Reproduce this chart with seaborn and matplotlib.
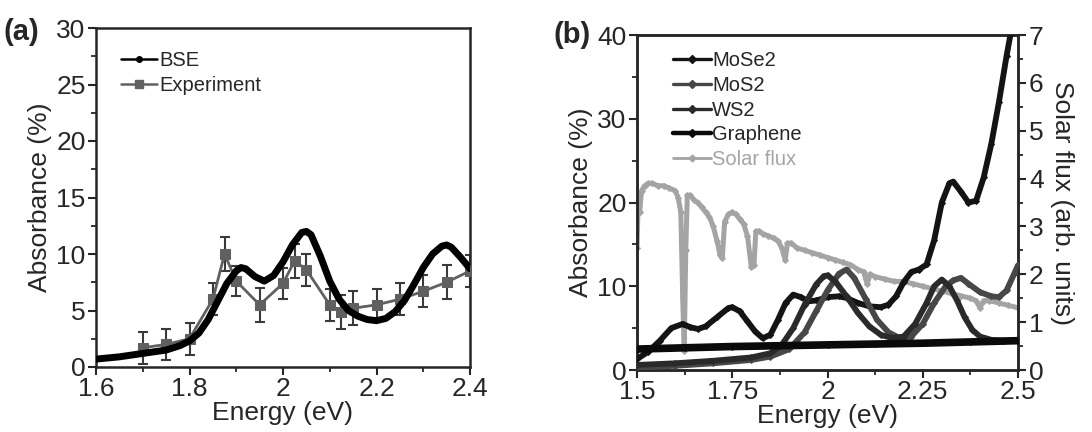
import numpy as np
import pandas as pd
import matplotlib
matplotlib.use("Agg")
import matplotlib.pyplot as plt
from matplotlib.lines import Line2D
from matplotlib.ticker import MultipleLocator
import seaborn as sns

# ---------------- panel (a): BSE vs experiment ----------------
bse_energy = [1.60, 1.65, 1.70, 1.75, 1.78, 1.80, 1.82, 1.84, 1.86, 1.88, 1.90, 1.91,
              1.92, 1.94, 1.96, 1.98, 2.00, 2.02, 2.04, 2.05, 2.06, 2.08, 2.10, 2.12,
              2.14, 2.16, 2.18, 2.20, 2.22, 2.24, 2.26, 2.28, 2.30, 2.32, 2.34, 2.35,
              2.36, 2.38, 2.40]
bse_absorb = [0.7, 0.9, 1.2, 1.5, 1.9, 2.3, 3.0, 4.2, 5.8, 7.4, 8.5, 8.8,
              8.7, 8.0, 7.6, 8.1, 9.3, 10.8, 11.9, 12.0, 11.7, 9.8, 7.6, 6.0,
              5.0, 4.5, 4.2, 4.1, 4.3, 4.9, 5.9, 7.3, 8.8, 10.0, 10.7, 10.8,
              10.6, 9.7, 8.7]

exp_energy = [1.70, 1.75, 1.80, 1.85, 1.875, 1.90, 1.95, 2.00, 2.025, 2.05, 2.10,
              2.125, 2.15, 2.20, 2.25, 2.30, 2.35, 2.40]
exp_absorb = [1.7, 2.0, 2.5, 6.0, 10.0, 7.6, 5.5, 7.4, 9.4, 8.6, 5.5,
              4.9, 5.2, 5.5, 6.0, 6.7, 7.5, 8.5]
exp_error = [1.4, 1.4, 1.4, 1.4, 1.5, 1.3, 1.5, 1.4, 1.5, 1.4, 1.4,
             1.5, 1.5, 1.4, 1.4, 1.4, 1.5, 1.4]

# ---------------- panel (b): monolayers and solar flux ----------------
mose2_energy = [1.50, 1.53, 1.56, 1.59, 1.62, 1.64, 1.66, 1.68, 1.71, 1.74, 1.75,
                1.77, 1.79, 1.81, 1.83, 1.85, 1.87, 1.89, 1.91, 1.93, 1.95, 1.97,
                2.00, 2.03, 2.05, 2.08, 2.11, 2.14, 2.16, 2.18, 2.20, 2.22, 2.24,
                2.26, 2.28, 2.30, 2.32, 2.33, 2.35, 2.37, 2.39, 2.41, 2.43, 2.45,
                2.47, 2.48]
mose2_absorb = [1.3, 2.2, 3.5, 5.0, 5.5, 5.1, 4.9, 5.2, 6.3, 7.4, 7.5,
                7.0, 5.8, 4.6, 3.8, 4.2, 6.0, 8.0, 9.0, 8.7, 8.2, 8.3,
                8.7, 8.8, 8.6, 8.0, 7.6, 7.5, 7.8, 8.8, 10.5, 11.7, 12.0,
                12.6, 15.5, 20.0, 22.3, 22.5, 21.3, 20.0, 20.2, 23.0, 27.0, 32.0,
                37.5, 40.0]

mos2_energy = [1.50, 1.60, 1.70, 1.80, 1.85, 1.90, 1.94, 1.97, 2.00, 2.03, 2.05,
               2.07, 2.10, 2.13, 2.16, 2.19, 2.22, 2.25, 2.28, 2.31, 2.33, 2.35,
               2.37, 2.40, 2.43, 2.45, 2.47, 2.49, 2.50]
mos2_absorb = [0.3, 0.5, 0.8, 1.2, 1.6, 2.5, 4.5, 7.0, 9.5, 11.5, 12.0,
               11.0, 8.5, 6.0, 4.5, 3.8, 4.0, 5.5, 8.0, 10.0, 10.7, 11.0,
               10.3, 9.3, 8.8, 8.7, 9.5, 11.5, 12.5]

ws2_energy = [1.50, 1.60, 1.70, 1.80, 1.85, 1.88, 1.91, 1.94, 1.97, 1.99, 2.00,
              2.02, 2.05, 2.08, 2.11, 2.14, 2.17, 2.20, 2.23, 2.26, 2.28, 2.30,
              2.32, 2.34, 2.36, 2.38, 2.40, 2.43, 2.46, 2.50]
ws2_absorb = [0.6, 0.8, 1.1, 1.5, 2.0, 3.0, 5.0, 7.8, 10.2, 11.2, 11.3,
              10.6, 8.8, 6.8, 5.2, 4.2, 3.8, 4.0, 5.5, 8.0, 10.0, 10.8,
              10.0, 8.3, 6.3, 4.8, 4.0, 3.6, 3.5, 3.5]

graphene_energy = [1.50, 1.625, 1.75, 1.875, 2.00, 2.125, 2.25, 2.375, 2.50]
graphene_absorb = [2.5, 2.65, 2.8, 2.9, 3.0, 3.1, 3.2, 3.35, 3.5]

solar_energy = [1.500, 1.503, 1.507, 1.512, 1.520, 1.530, 1.540, 1.555, 1.570, 1.585,
                1.600, 1.608, 1.615, 1.620, 1.624, 1.628, 1.632, 1.640, 1.650, 1.660,
                1.670, 1.680, 1.690, 1.700, 1.710, 1.718, 1.724, 1.730, 1.740, 1.750,
                1.760, 1.770, 1.780, 1.790, 1.800, 1.807, 1.812, 1.820, 1.830, 1.845,
                1.860, 1.870, 1.880, 1.889, 1.895, 1.905, 1.920, 1.940, 1.960, 1.980,
                2.000, 2.020, 2.040, 2.060, 2.080, 2.095, 2.104, 2.112, 2.125, 2.150,
                2.175, 2.200, 2.225, 2.250, 2.275, 2.300, 2.325, 2.350, 2.375, 2.390,
                2.400, 2.410, 2.425, 2.450, 2.475, 2.500]
solar_flux = [2.55, 3.50, 3.30, 3.75, 3.85, 3.90, 3.90, 3.85, 3.85, 3.80,
              3.75, 3.60, 3.30, 1.50, 0.40, 2.50, 3.65, 3.65, 3.55, 3.50,
              3.40, 3.30, 3.20, 3.00, 2.70, 2.40, 2.35, 3.10, 3.25, 3.30,
              3.25, 3.15, 3.05, 2.80, 2.15, 2.20, 2.90, 2.90, 2.85, 2.80,
              2.75, 2.70, 2.55, 2.30, 2.65, 2.65, 2.55, 2.50, 2.45, 2.40,
              2.35, 2.30, 2.25, 2.20, 2.10, 2.05, 1.80, 2.00, 1.95, 1.90,
              1.85, 1.85, 1.80, 1.75, 1.70, 1.65, 1.60, 1.55, 1.50, 1.45,
              1.30, 1.45, 1.45, 1.40, 1.35, 1.30]

# ---------------- figure ----------------
sns.set_style("ticks")
plt.rcParams["font.family"] = ["Liberation Sans", "DejaVu Sans"]
plt.rcParams["axes.linewidth"] = 1.8
plt.rcParams["xtick.major.width"] = 1.5
plt.rcParams["ytick.major.width"] = 1.5
plt.rcParams["xtick.minor.width"] = 1.3
plt.rcParams["ytick.minor.width"] = 1.3
plt.rcParams["xtick.major.size"] = 6
plt.rcParams["ytick.major.size"] = 6
plt.rcParams["xtick.minor.size"] = 3.5
plt.rcParams["ytick.minor.size"] = 3.5

fig = plt.figure(figsize=(10.92, 4.32), dpi=100)
ax1 = fig.add_axes([96 / 1092, 1 - 367 / 432, 374 / 1092, 339 / 432])
ax2 = fig.add_axes([637 / 1092, 1 - 370 / 432, 381 / 1092, 335 / 432])

TICK_FS = 19
LABEL_FS = 19
LEG_FS = 14.5

# panel (a)
bse_df = pd.DataFrame({"energy": bse_energy, "absorbance": bse_absorb})
exp_df = pd.DataFrame({"energy": exp_energy, "absorbance": exp_absorb, "err": exp_error})

exp_color = "#606060"
ax1.errorbar(exp_df["energy"], exp_df["absorbance"], yerr=exp_df["err"],
             fmt="none", ecolor="#3a3a3a", elinewidth=1.5, capsize=3.5, capthick=1.5, zorder=2)
sns.lineplot(data=exp_df, x="energy", y="absorbance", ax=ax1, color=exp_color,
             lw=2.0, marker="s", markersize=6.5, markeredgecolor=exp_color,
             sort=False, zorder=3)
sns.lineplot(data=bse_df, x="energy", y="absorbance", ax=ax1, color="black",
             lw=5.0, sort=False, zorder=4)

ax1.set_xlim(1.6, 2.4)
ax1.set_ylim(0, 30)
ax1.set_xticks([1.6, 1.8, 2.0, 2.2, 2.4])
ax1.set_xticklabels(["1.6", "1.8", "2", "2.2", "2.4"])
ax1.xaxis.set_minor_locator(MultipleLocator(0.1))
ax1.yaxis.set_major_locator(MultipleLocator(5))
ax1.yaxis.set_minor_locator(MultipleLocator(2.5))
ax1.tick_params(axis="both", which="both", direction="out", labelsize=TICK_FS, pad=1.5,
                top=False, right=False)
ax1.set_xlabel("Energy (eV)", fontsize=LABEL_FS, labelpad=0)
ax1.set_ylabel("Absorbance (%)", fontsize=LABEL_FS, labelpad=3)
for s in ax1.spines.values():
    s.set_visible(True)

leg_a = [
    Line2D([], [], color="black", lw=1.8, marker="o", markersize=4),
    Line2D([], [], color=exp_color, lw=1.8, marker="s", markersize=5.5),
]
ax1.legend(leg_a, ["BSE", "Experiment"], loc="upper left", frameon=False,
           fontsize=LEG_FS, handlelength=1.8, handletextpad=0.1, labelspacing=0.3,
           bbox_to_anchor=(0.045, 0.955), borderaxespad=0)

# panel (b)
series_b = [
    ("MoSe2", mose2_energy, mose2_absorb, "#141414", 4.2),
    ("MoS2", mos2_energy, mos2_absorb, "#474747", 4.2),
    ("WS2", ws2_energy, ws2_absorb, "#2a2a2a", 4.2),
    ("Graphene", graphene_energy, graphene_absorb, "#0a0a0a", 5.5),
]

ax3 = ax2.twinx()
solar_df = pd.DataFrame({"energy": solar_energy, "flux": solar_flux})
solar_color = "#a4a4a4"
sns.lineplot(data=solar_df, x="energy", y="flux", ax=ax3, color=solar_color, lw=3.6,
             marker="D", markersize=3, markeredgecolor=solar_color, sort=False, zorder=1)

for name, e, a, c, lw in series_b:
    d = pd.DataFrame({"energy": e, "absorbance": a})
    sns.lineplot(data=d, x="energy", y="absorbance", ax=ax2, color=c, lw=lw,
                 marker="D", markersize=3, markeredgecolor=c, sort=False, zorder=3)

# absorbance curves drawn above the solar flux
ax2.set_zorder(ax3.get_zorder() + 1)
ax2.patch.set_visible(False)

ax2.set_xlim(1.5, 2.5)
ax2.set_ylim(0, 40)
ax3.set_ylim(0, 7)
ax2.set_xticks([1.5, 1.75, 2.0, 2.25, 2.5])
ax2.set_xticklabels(["1.5", "1.75", "2", "2.25", "2.5"])
ax2.xaxis.set_minor_locator(MultipleLocator(0.125))
ax2.yaxis.set_major_locator(MultipleLocator(10))
ax2.yaxis.set_minor_locator(MultipleLocator(5))
ax3.yaxis.set_major_locator(MultipleLocator(1))
ax3.yaxis.set_minor_locator(MultipleLocator(0.5))
ax2.tick_params(axis="both", which="both", direction="out", labelsize=TICK_FS, pad=1.5,
                top=False, right=False)
ax3.tick_params(axis="y", which="both", direction="out", labelsize=TICK_FS, pad=2)
ax2.set_xlabel("Energy (eV)", fontsize=LABEL_FS, labelpad=0)
ax2.set_ylabel("Absorbance (%)", fontsize=LABEL_FS, labelpad=3)
ax3.set_ylabel("Solar flux (arb. units)", fontsize=LABEL_FS, rotation=270, labelpad=22)
for s in ax2.spines.values():
    s.set_visible(True)
for s in ax3.spines.values():
    s.set_visible(True)

leg_b = [Line2D([], [], color=c, lw=2.4 if n != "Graphene" else 3.2, marker="D", markersize=4)
         for n, _, _, c, _ in series_b]
leg_b.append(Line2D([], [], color=solar_color, lw=2.0, marker="D", markersize=3.5))
leg = ax2.legend(leg_b, ["MoSe2", "MoS2", "WS2", "Graphene", "Solar flux"], loc="upper left",
                 frameon=False, fontsize=LEG_FS, handlelength=1.9, handletextpad=0.05,
                 labelspacing=0.28, bbox_to_anchor=(0.073, 0.975), borderaxespad=0)
leg.get_texts()[-1].set_color(solar_color)

fig.text(0.003, 0.925, "(a)", fontsize=21, fontweight="bold", va="center", ha="left")
fig.text(0.507, 0.92, "(b)", fontsize=21, fontweight="bold", va="center", ha="left")

fig.savefig("out.png", dpi=100)
